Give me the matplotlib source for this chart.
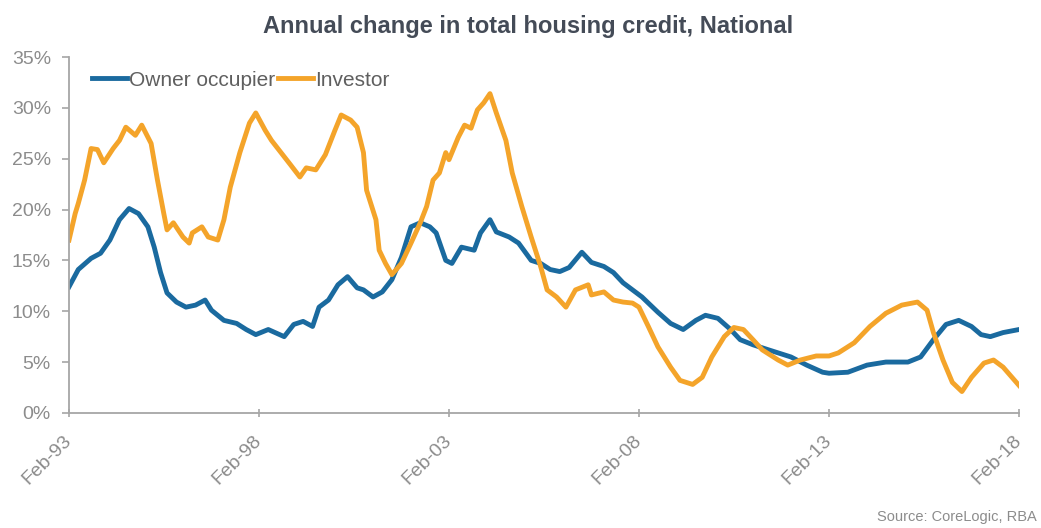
import pandas as pd
import matplotlib.pyplot as plt

plt.rcParams["font.family"] = ["Liberation Sans", "DejaVu Sans"]

# Annual growth in housing credit (%), owner occupier
owner_dates = [
    "1993-02", "1993-05", "1993-09", "1993-12", "1994-03", "1994-06", "1994-09", "1994-12",
    "1995-03", "1995-05", "1995-07", "1995-09", "1995-12", "1996-03", "1996-06", "1996-09",
    "1996-11", "1997-03", "1997-07", "1997-10", "1998-01", "1998-05", "1998-10", "1999-01",
    "1999-04", "1999-07", "1999-09", "1999-12", "2000-03", "2000-06", "2000-09", "2000-11",
    "2001-02", "2001-05", "2001-08", "2001-11", "2002-02", "2002-05", "2002-08", "2002-10",
    "2003-01", "2003-03", "2003-06", "2003-10", "2003-12", "2004-03", "2004-05", "2004-09",
    "2004-12", "2005-04", "2005-07", "2005-10", "2006-01", "2006-04", "2006-08", "2006-11",
    "2007-03", "2007-06", "2007-09", "2008-03", "2008-08", "2008-12", "2009-04", "2009-08",
    "2009-11", "2010-03", "2010-07", "2010-10", "2011-02", "2011-07", "2012-02", "2012-07",
    "2012-12", "2013-02", "2013-08", "2014-02", "2014-08", "2015-03", "2015-07", "2015-11",
    "2016-03", "2016-07", "2016-11", "2017-02", "2017-05", "2017-09", "2018-02",
]
owner = [
    12.4, 14.1, 15.2, 15.7, 17.0, 19.0, 20.1, 19.6,
    18.3, 16.3, 13.8, 11.8, 10.9, 10.4, 10.6, 11.1,
    10.1, 9.1, 8.8, 8.2, 7.7, 8.2, 7.5, 8.7,
    9.0, 8.5, 10.4, 11.1, 12.6, 13.4, 12.3, 12.1,
    11.4, 11.9, 13.1, 15.3, 18.3, 18.7, 18.3, 17.7,
    15.0, 14.7, 16.3, 16.0, 17.7, 19.0, 17.8, 17.3,
    16.7, 15.0, 14.7, 14.1, 13.9, 14.3, 15.8, 14.8,
    14.4, 13.8, 12.8, 11.4, 9.9, 8.8, 8.2, 9.1,
    9.6, 9.3, 8.2, 7.2, 6.7, 6.2, 5.5, 4.7,
    4.0, 3.9, 4.0, 4.7, 5.0, 5.0, 5.5, 7.2,
    8.7, 9.1, 8.5, 7.7, 7.5, 7.9, 8.2,
]

# Annual growth in housing credit (%), investor
investor_dates = [
    "1993-02", "1993-04", "1993-05", "1993-07", "1993-09", "1993-11", "1994-01", "1994-04",
    "1994-06", "1994-08", "1994-11", "1995-01", "1995-04", "1995-06", "1995-08", "1995-09",
    "1995-11", "1996-02", "1996-04", "1996-05", "1996-08", "1996-10", "1997-01", "1997-03",
    "1997-05", "1997-08", "1997-11", "1998-01", "1998-04", "1998-06", "1998-10", "1998-12",
    "1999-03", "1999-05", "1999-08", "1999-11", "2000-02", "2000-04", "2000-07", "2000-09",
    "2000-11", "2000-12", "2001-03", "2001-04", "2001-06", "2001-08", "2001-11", "2002-02",
    "2002-05", "2002-07", "2002-09", "2002-11", "2003-01", "2003-02", "2003-05", "2003-07",
    "2003-09", "2003-11", "2004-01", "2004-03", "2004-05", "2004-08", "2004-10", "2005-01",
    "2005-04", "2005-07", "2005-09", "2005-12", "2006-03", "2006-06", "2006-10", "2006-11",
    "2007-03", "2007-06", "2007-09", "2007-12", "2008-02", "2008-05", "2008-08", "2008-12",
    "2009-03", "2009-07", "2009-10", "2010-01", "2010-05", "2010-08", "2010-11", "2011-02",
    "2011-05", "2011-10", "2012-01", "2012-05", "2012-10", "2013-02", "2013-05", "2013-10",
    "2014-03", "2014-08", "2015-01", "2015-06", "2015-09", "2015-11", "2016-02", "2016-05",
    "2016-08", "2016-11", "2017-03", "2017-06", "2017-09", "2018-02",
]
investor = [
    17.0, 19.6, 20.6, 22.9, 26.0, 25.9, 24.6, 26.0,
    26.8, 28.1, 27.3, 28.3, 26.5, 22.9, 19.6, 18.0,
    18.7, 17.3, 16.7, 17.7, 18.3, 17.3, 17.0, 19.0,
    22.2, 25.6, 28.5, 29.5, 27.8, 26.8, 25.2, 24.4,
    23.2, 24.1, 23.9, 25.4, 27.8, 29.3, 28.8, 28.1,
    25.6, 21.9, 19.0, 16.0, 14.7, 13.6, 14.7, 16.7,
    18.7, 20.3, 22.9, 23.6, 25.6, 24.9, 27.1, 28.3,
    28.0, 29.8, 30.5, 31.4, 29.5, 26.8, 23.6, 20.3,
    17.3, 14.4, 12.1, 11.4, 10.4, 12.1, 12.6, 11.6,
    11.9, 11.1, 10.9, 10.8, 10.4, 8.5, 6.5, 4.5,
    3.2, 2.8, 3.5, 5.5, 7.5, 8.4, 8.2, 7.2,
    6.2, 5.2, 4.7, 5.2, 5.6, 5.6, 5.9, 6.9,
    8.5, 9.8, 10.6, 10.9, 10.1, 7.9, 5.2, 3.0,
    2.1, 3.5, 4.9, 5.2, 4.5, 2.7,
]

tick_labels = ["Feb-93", "Feb-98", "Feb-03", "Feb-08", "Feb-13", "Feb-18"]
y_ticks = [0, 5, 10, 15, 20, 25, 30, 35]

blue = "#1a6a9f"
orange = "#f4a42a"
axis_grey = "#a6a6a6"
text_grey = "#8c8c8c"

fig = plt.figure(figsize=(10.41, 5.28), dpi=100)
ax = fig.add_axes([0.0663, 0.218, 0.9126, 0.674])

ax.plot(pd.to_datetime(owner_dates), owner, color=blue, lw=3.5, label="Owner occupier")
ax.plot(pd.to_datetime(investor_dates), investor, color=orange, lw=3.5, label="Investor")

ticks = pd.to_datetime(tick_labels, format="%b-%y")
ax.set_xlim(ticks[0], ticks[-1])
ax.set_xticks(ticks)
ax.set_xticklabels(tick_labels, rotation=45, ha="right", va="center",
                   rotation_mode="anchor")
ax.set_ylim(0, 35)
ax.set_yticks(y_ticks)
ax.set_yticklabels([f"{v}%" for v in y_ticks])

for side in ("top", "right"):
    ax.spines[side].set_visible(False)
for side in ("left", "bottom"):
    ax.spines[side].set_color(axis_grey)
    ax.spines[side].set_linewidth(1.3)
ax.tick_params(axis="y", direction="out", length=5, width=1.2, color=axis_grey,
               labelsize=14, labelcolor=text_grey, pad=8)
ax.tick_params(axis="x", direction="inout", length=6, width=1.2, color=axis_grey,
               labelsize=14, labelcolor=text_grey, pad=15)

leg = ax.legend(loc="center left", bbox_to_anchor=(0.024, 0.935), ncol=2,
                frameon=False, fontsize=15, handlelength=1.7, handletextpad=0.1,
                columnspacing=0.1, borderaxespad=0, borderpad=0)
for t in leg.get_texts():
    t.set_color("#5f5f5f")

fig.text(0.507, 0.950, "Annual change in total housing credit, National",
         ha="center", va="center", fontsize=17, fontweight="bold", color="#444b57")
fig.text(0.842, 0.021, "Source: CoreLogic, RBA", ha="left", va="center",
         fontsize=10.5, color=text_grey)

fig.savefig("out.png", dpi=100)
